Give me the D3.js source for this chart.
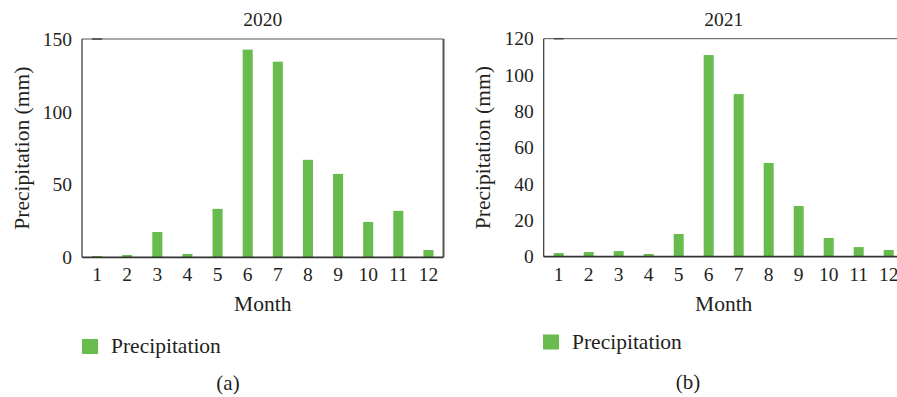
<!DOCTYPE html>
<html>
<head>
<meta charset="utf-8">
<script src="https://cdn.jsdelivr.net/npm/d3@7/dist/d3.min.js"></script>
<style>
  html, body { margin: 0; padding: 0; background: #fff; }
  svg { display: block; }
  text { font-family: "Liberation Serif", "DejaVu Serif", serif; fill: #231f20; }
</style>
</head>
<body>
<svg id="chart" width="897" height="397"></svg>
<script>
// Monthly precipitation (mm)
const months = ["1", "2", "3", "4", "5", "6", "7", "8", "9", "10", "11", "12"];
const precip2020 = [0.9, 1.6, 17.4, 2.3, 33.3, 142.7, 134.4, 67, 57.3, 24.3, 31.9, 5.0];
const precip2021 = [2.0, 2.6, 3.1, 1.5, 12.5, 111, 89.5, 51.6, 27.9, 10.3, 5.3, 3.7];
const ticks2020 = [0, 50, 100, 150];
const ticks2021 = [0, 20, 40, 60, 80, 100, 120];
const seriesName = "Precipitation";

const barColor = "#67bc4d";
const svg = d3.select("#chart");

function panel(opt) {
  const g = svg.append("g");
  const x = d3.scaleBand().domain(months).range([opt.x0, opt.x1])
    .paddingInner(2 / 3).paddingOuter(1 / 3);
  const y = d3.scaleLinear().domain([0, opt.max]).range([opt.y0, opt.y1]);

  // bars
  g.selectAll("rect.bar").data(opt.values).join("rect")
    .attr("class", "bar")
    .attr("x", (d, i) => x(months[i]))
    .attr("width", x.bandwidth())
    .attr("y", d => y(d))
    .attr("height", d => y(0) - y(d))
    .attr("fill", barColor);

  // frame
  g.append("line").attr("x1", opt.x0).attr("x2", opt.x1).attr("y1", opt.y1).attr("y2", opt.y1)
    .attr("stroke", "#555").attr("stroke-width", 1);
  g.append("line").attr("x1", opt.x0 + 10).attr("x2", opt.x0 + 20).attr("y1", opt.y1).attr("y2", opt.y1)
    .attr("stroke", "#444").attr("stroke-width", 1.5);
  g.append("line").attr("x1", opt.x1).attr("x2", opt.x1).attr("y1", opt.y1).attr("y2", opt.y0)
    .attr("stroke", "#555").attr("stroke-width", 2);
  g.append("line").attr("x1", opt.x0).attr("x2", opt.x0).attr("y1", opt.y1).attr("y2", opt.y0)
    .attr("stroke", "#333").attr("stroke-width", 1.2);
  g.append("line").attr("x1", opt.x0).attr("x2", opt.x1).attr("y1", opt.y0).attr("y2", opt.y0)
    .attr("stroke", "#333").attr("stroke-width", 1.8);

  // y axis (labels only)
  const ya = g.append("g").attr("transform", `translate(${opt.x0},0)`)
    .call(d3.axisLeft(y).tickValues(opt.ticks).tickSize(0).tickPadding(10));
  ya.select(".domain").remove();
  ya.selectAll("text").attr("font-size", 19.5).attr("font-family", null).attr("fill", "#231f20");

  // x axis (labels only)
  const xa = g.append("g").attr("transform", `translate(0,${opt.y0})`)
    .call(d3.axisBottom(x).tickSize(0).tickPadding(10));
  xa.select(".domain").remove();
  xa.selectAll("text").attr("font-size", 19.5).attr("font-family", null).attr("fill", "#231f20");

  const cx = (opt.x0 + opt.x1) / 2;
  g.append("text").attr("x", cx).attr("y", opt.y1 - 13).attr("text-anchor", "middle")
    .attr("font-size", 19.5).text(opt.title);
  g.append("text").attr("x", cx).attr("y", opt.y0 + 54).attr("text-anchor", "middle")
    .attr("font-size", 21.5).text("Month");
  g.append("text")
    .attr("transform", `translate(${opt.titleX},${(opt.y0 + opt.y1) / 2}) rotate(-90)`)
    .attr("text-anchor", "middle").attr("font-size", 21.5).text("Precipitation (mm)");

  // legend
  g.append("rect").attr("x", opt.legX).attr("y", opt.legY).attr("width", 16).attr("height", 15)
    .attr("fill", barColor);
  g.append("text").attr("x", opt.legX + 29).attr("y", opt.legY + 14)
    .attr("font-size", 21.5).text(seriesName);

  g.append("text").attr("x", opt.capX).attr("y", opt.capY).attr("text-anchor", "middle")
    .attr("font-size", 21).text(opt.caption);
}

panel({ x0: 82, x1: 443.5, y0: 257.3, y1: 39, max: 150, values: precip2020, ticks: ticks2020,
  title: "2020", titleX: 29, legX: 82, legY: 339, capX: 228, capY: 390, caption: "(a)" });
panel({ x0: 543.7, x1: 903.7, y0: 256.7, y1: 38.7, max: 120, values: precip2021, ticks: ticks2021,
  title: "2021", titleX: 489.5, legX: 543, legY: 334.5, capX: 688, capY: 388.5, caption: "(b)" });
</script>
</body>
</html>
